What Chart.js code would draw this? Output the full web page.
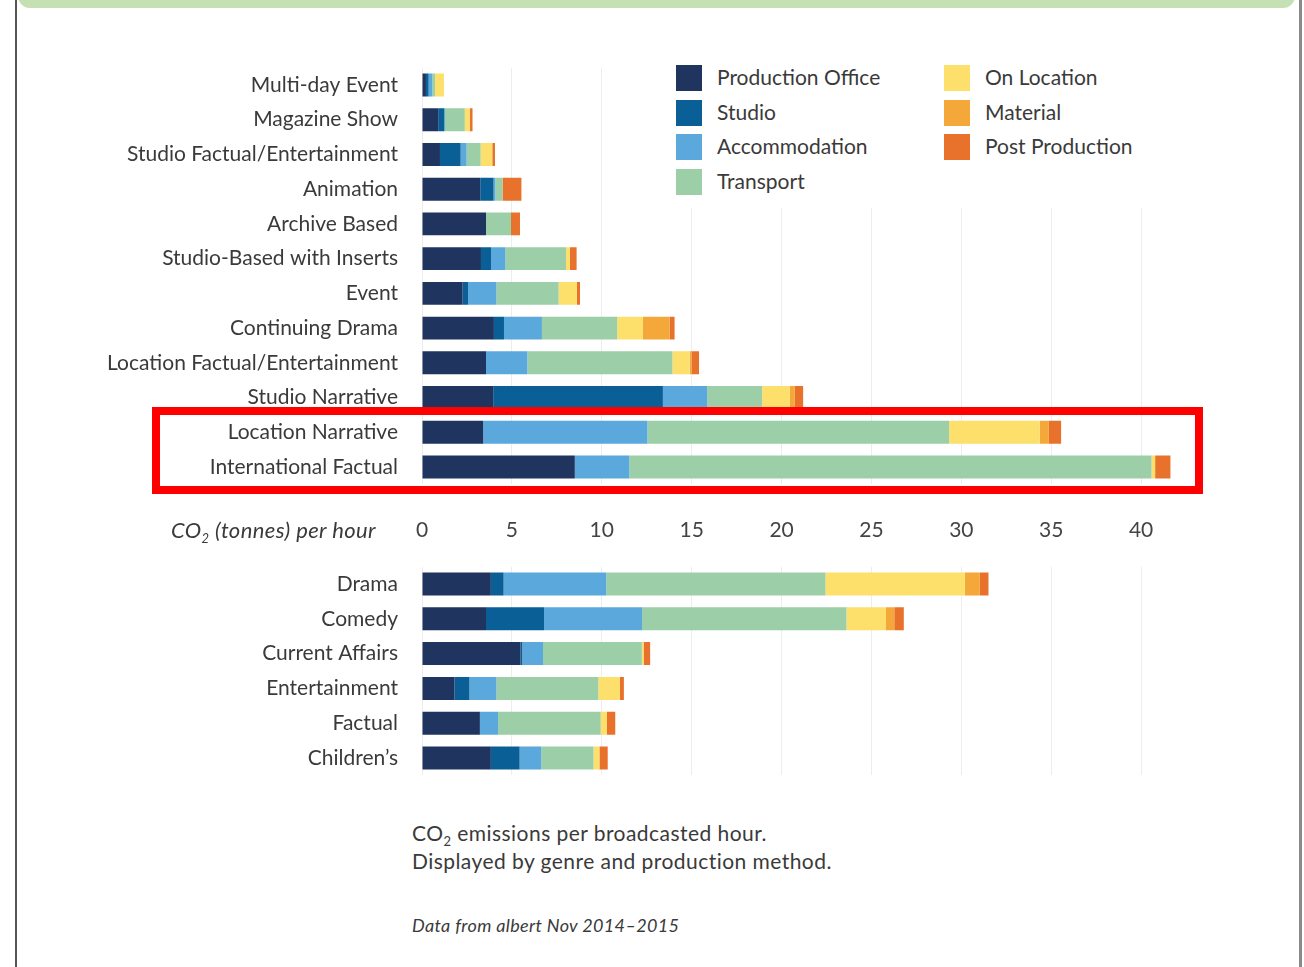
<!DOCTYPE html>
<html>
<head>
<meta charset="utf-8">
<script src="https://cdn.jsdelivr.net/npm/chart.js@4.4.0/dist/chart.umd.min.js"></script>
<style>
  html, body { margin: 0; padding: 0; background: #fff; }
  body { width: 1304px; height: 967px; position: relative; overflow: hidden; font-family: Lato, "Noto Sans", sans-serif; color: #3a3a3a; }
  canvas { position: absolute; left: 0; }
  .abs { position: absolute; }
  sub { font-size: 13px; line-height: 0; vertical-align: baseline; position: relative; top: 5px; }
  #legend .item { position: absolute; height: 26px; font-size: 21px; line-height: 26px; white-space: nowrap; }
  #legend .sw { position: absolute; left: 0; top: 0; width: 26px; height: 26px; }
  #legend .tx { position: absolute; left: 41px; top: -1px; }
</style>
</head>
<body>
<div class="abs" style="left:18px; top:-12px; width:1277px; height:20px; background:#c5e0b2; border-radius:0 0 12px 12px;"></div>
<div class="abs" style="left:15px; top:0; width:2px; height:967px; background:#555;"></div>
<div class="abs" style="left:1299px; top:0; width:3px; height:967px; background:#8a8a8a;"></div>

<canvas id="top" width="1304" height="560" style="top:0"></canvas>
<canvas id="bottom" width="1304" height="260" style="top:540px"></canvas>

<div id="legend" class="abs" style="left:665px; top:58px; width:490px; height:150px; background:#fff;"></div>

<div class="abs" style="right:928px; top:516px; font-size:22px; letter-spacing:0.4px; font-style:italic; color:#3a3a3a; white-space:nowrap;">CO<sub>2</sub> (tonnes) per hour</div>

<div class="abs" style="left:412px; top:819px; font-size:21px; line-height:28px; letter-spacing:0.45px; color:#3a3a3a; white-space:nowrap;">CO<sub>2</sub> emissions per broadcasted hour.<br>Displayed by genre and production method.</div>
<div class="abs" style="left:412px; top:914px; font-size:18px; letter-spacing:0.35px; font-style:italic; color:#3a3a3a; white-space:nowrap;">Data from albert Nov 2014–2015</div>

<div class="abs" style="left:152px; top:407px; width:1051px; height:87px; border:8px solid #ff0000; box-sizing:border-box;"></div>

<script>
// ==========================================
// data
// ==========================================
const seriesNames = ['Production Office', 'Studio', 'Accommodation', 'Transport', 'On Location', 'Material', 'Post Production'];
const seriesColors = ['#1f3560', '#0a5f96', '#5aa8dc', '#9ccfa7', '#fde06c', '#f5a83a', '#e8722b'];

const methodLabels = ['Multi-day Event', 'Magazine Show', 'Studio Factual/Entertainment', 'Animation', 'Archive Based', 'Studio-Based with Inserts', 'Event', 'Continuing Drama', 'Location Factual/Entertainment', 'Studio Narrative', 'Location Narrative', 'International Factual'];
const methodOffice   = [0.22, 0.90, 1.00, 3.24, 3.56, 3.28, 2.26, 4.00, 3.56, 3.96, 3.40, 8.50];
const methodStudio   = [0.15, 0.33, 1.15, 0.74, 0,    0.56, 0.31, 0.56, 0,    9.44, 0,    0];
const methodAccom    = [0.20, 0.05, 0.33, 0.10, 0,    0.80, 1.57, 2.11, 2.30, 2.46, 9.14, 3.03];
const methodTransport= [0.15, 1.10, 0.78, 0.40, 1.39, 3.37, 3.46, 4.19, 8.07, 3.06, 16.78, 29.05];
const methodLocation = [0.50, 0.28, 0.65, 0,    0,    0.22, 1.02, 1.43, 0.96, 1.54, 5.04, 0.20];
const methodMaterial = [0,    0,    0,    0,    0,    0,    0,    1.48, 0.10, 0.28, 0.51, 0];
const methodPost     = [0,    0.15, 0.15, 1.05, 0.50, 0.37, 0.17, 0.28, 0.42, 0.46, 0.68, 0.85];

const genreLabels = ['Drama', 'Comedy', 'Current Affairs', 'Entertainment', 'Factual', 'Children’s'];
const genreOffice   = [3.83, 3.56, 5.48, 1.81, 3.22, 3.83];
const genreStudio   = [0.71, 3.23, 0.10, 0.83, 0,    1.60];
const genreAccom    = [5.71, 5.45, 1.15, 1.50, 1.01, 1.21];
const genreTransport= [12.19, 11.37, 5.50, 5.67, 5.71, 2.90];
const genreLocation = [7.75, 2.20, 0.10, 1.20, 0.35, 0.33];
const genreMaterial = [0.84, 0.46, 0,    0,    0,    0];
const genrePost     = [0.48, 0.53, 0.36, 0.22, 0.46, 0.46];

const xTicks = [0, 5, 10, 15, 20, 25, 30, 35, 40];

// ==========================================
// helpers
// ==========================================
function makeSets(cols) {
  return cols.map((d, i) => ({
    label: seriesNames[i], data: d, backgroundColor: seriesColors[i],
    borderWidth: 0, barPercentage: 0.66, categoryPercentage: 1
  }));
}

const gridCol = ctx => xTicks.includes(ctx.tick && ctx.tick.value) ? '#ededed' : 'rgba(0,0,0,0)';
const font = { family: 'Lato, "Noto Sans", sans-serif', size: 21 };

function buildChart(id, labels, sets, showTicks, pad) {
  return new Chart(document.getElementById(id), {
    type: 'bar',
    data: { labels: labels, datasets: sets },
    options: {
      indexAxis: 'y', responsive: false, animation: false,
      layout: { padding: pad },
      plugins: { legend: { display: false }, tooltip: { enabled: false } },
      scales: {
        x: {
          stacked: true, min: 0, max: 45,
          border: { display: false },
          grid: { color: gridCol, drawTicks: false, lineWidth: 1 },
          ticks: { display: showTicks, stepSize: 5, padding: 33, font: font, color: '#444',
                   callback: v => xTicks.includes(v) ? v : '' },
          afterFit: s => { s.height = showTicks ? 60 : 0; }
        },
        y: {
          stacked: true,
          border: { display: false },
          // transparent tick marks give the 24px gap without padding the chart area
          grid: { display: true, drawOnChartArea: false, drawTicks: true, tickLength: 24, color: 'rgba(0,0,0,0)' },
          ticks: { padding: 0, font: font, color: '#3a3a3a' },
          afterFit: s => { s.width = 422; }
        }
      }
    }
  });
}

buildChart('top', methodLabels,
  makeSets([methodOffice, methodStudio, methodAccom, methodTransport, methodLocation, methodMaterial, methodPost]),
  true, { top: 67.6, bottom: 15.6, left: 0, right: 73 });

buildChart('bottom', genreLabels,
  makeSets([genreOffice, genreStudio, genreAccom, genreTransport, genreLocation, genreMaterial, genrePost]),
  false, { top: 26.6, bottom: 24.6, left: 0, right: 73 });

// legend in two columns (4 + 3)
const lg = document.getElementById('legend');
seriesNames.forEach((name, i) => {
  const col = i < 4 ? 0 : 1, row = i < 4 ? i : i - 4;
  const el = document.createElement('div');
  el.className = 'item';
  el.style.left = (col ? 279 : 11) + 'px';
  el.style.top = (7 + row * 34.7) + 'px';
  el.innerHTML = '<span class="sw" style="background:' + seriesColors[i] + '"></span><span class="tx">' + name + '</span>';
  lg.appendChild(el);
});
</script>
</body>
</html>
